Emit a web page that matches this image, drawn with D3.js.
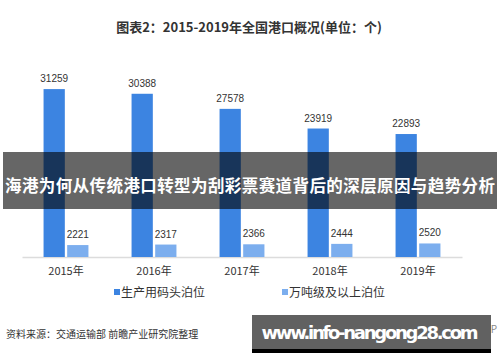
<!DOCTYPE html>
<html>
<head>
<meta charset="utf-8">
<script src="https://cdn.jsdelivr.net/npm/d3@7"></script>
<style>
  body { margin: 0; background: #fff; }
  text { font-family: "Noto Sans CJK SC", "Liberation Sans", sans-serif; }
</style>
</head>
<body>
<div id="chart"></div>
<script>
let width = 500,
    height = 362,
    margin = ({ top: 69, right: 38, bottom: 105, left: 22 });

const years = ["2015年", "2016年", "2017年", "2018年", "2019年"];
const seriesNames = ["生产用码头泊位", "万吨级及以上泊位"];
const production = [31259, 30388, 27578, 23919, 22893];
const wanton = [2221, 2317, 2366, 2444, 2520];
const colors = ["#3c84e1", "#7caeee"];

const svg = d3.select("#chart")
    .append("svg")
    .attr("width", width)
    .attr("height", height);

// title
svg.append("text")
    .attr("x", 249).attr("y", 32)
    .attr("text-anchor", "middle")
    .attr("font-size", 13).attr("font-weight", "bold")
    .attr("fill", "#333")
    .text("图表2：2015-2019年全国港口概况(单位：个)");

let x0 = d3.scaleBand()
    .domain(years)
    .range([margin.left, width - margin.right])
    .paddingInner(0.49).paddingOuter(0.245);

let x1 = d3.scaleBand()
    .domain(seriesNames)
    .range([0, x0.bandwidth()])
    .paddingInner(0.1);

let y = d3.scaleLinear()
    .domain([0, 35000])
    .range([height - margin.bottom, margin.top]);

const rows = years.map((yr, i) => ({ year: yr, values: [production[i], wanton[i]] }));

// axis line + year labels
const xAxis = svg.append("g")
    .attr("transform", `translate(0,${height - margin.bottom})`)
    .call(d3.axisBottom(x0).tickSize(0).tickPadding(10));
xAxis.select(".domain").attr("stroke", "#dcdcdc").attr("stroke-width", 1.5);
xAxis.selectAll("text").attr("font-size", 11).attr("fill", "#333")
    .style("font-family", "'Noto Sans CJK SC', sans-serif");

const groups = svg.append("g").selectAll("g")
    .data(rows)
    .join("g")
    .attr("transform", d => `translate(${x0(d.year)},0)`);

groups.selectAll("rect")
    .data(d => d.values.map((v, j) => ({ key: seriesNames[j], v, j })))
    .join("rect")
    .attr("x", d => x1(d.key))
    .attr("y", d => y(d.v))
    .attr("width", x1.bandwidth())
    .attr("height", d => y(0) - y(d.v))
    .attr("fill", d => colors[d.j]);

groups.selectAll("text.val")
    .data(d => d.values.map((v, j) => ({ key: seriesNames[j], v, j })))
    .join("text")
    .attr("class", "val")
    .attr("x", d => x1(d.key) + x1.bandwidth() / 2)
    .attr("y", d => y(d.v) - 7)
    .attr("text-anchor", "middle")
    .attr("font-size", 10)
    .attr("fill", "#333")
    .style("font-family", "'Liberation Sans', sans-serif")
    .text(d => d.v);

// legend
const legendX = [114, 282];
const legend = svg.append("g").selectAll("g")
    .data(seriesNames)
    .join("g")
    .attr("transform", (d, i) => `translate(${legendX[i]},292)`);
legend.append("rect")
    .attr("x", 0).attr("y", -3)
    .attr("width", 6).attr("height", 6)
    .attr("fill", (d, i) => colors[i]);
legend.append("text")
    .attr("x", 7).attr("y", 4.5)
    .attr("font-size", 12).attr("fill", "#333")
    .text(d => d);

// source
svg.append("text")
    .attr("x", 6).attr("y", 338)
    .attr("font-size", 10).attr("fill", "#333")
    .text("资料来源：交通运输部 前瞻产业研究院整理");

// app credit, mostly hidden under the banner
svg.append("text")
    .attr("x", 409).attr("y", 333)
    .attr("font-size", 10).attr("fill", "#888")
    .text("@前瞻经济学人APP");

// bottom-right banner
svg.append("rect")
    .attr("x", 252).attr("y", 315)
    .attr("width", 239).attr("height", 38)
    .attr("fill", "#000");
svg.append("rect")
    .attr("x", 252).attr("y", 315)
    .attr("width", 239).attr("height", 34)
    .attr("fill", "#616161");
svg.append("text")
    .attr("x", 370).attr("y", 339)
    .attr("text-anchor", "middle")
    .attr("font-size", 18).attr("font-weight", "bold")
    .attr("fill", "#fff")
    .style("font-family", "'DejaVu Sans', sans-serif")
    .attr("textLength", 217)
    .text("www.info-nangong28.com");

// overlay headline band
svg.append("rect")
    .attr("x", 3).attr("y", 152)
    .attr("width", 494).attr("height", 57)
    .attr("fill", "rgba(0,0,0,0.6)");
svg.append("text")
    .attr("x", 250).attr("y", 192)
    .attr("text-anchor", "middle")
    .attr("font-size", 16.5).attr("font-weight", "bold")
    .attr("fill", "#fff")
    .attr("textLength", 490)
    .text("海港为何从传统港口转型为刮彩票赛道背后的深层原因与趋势分析");
</script>
</body>
</html>
